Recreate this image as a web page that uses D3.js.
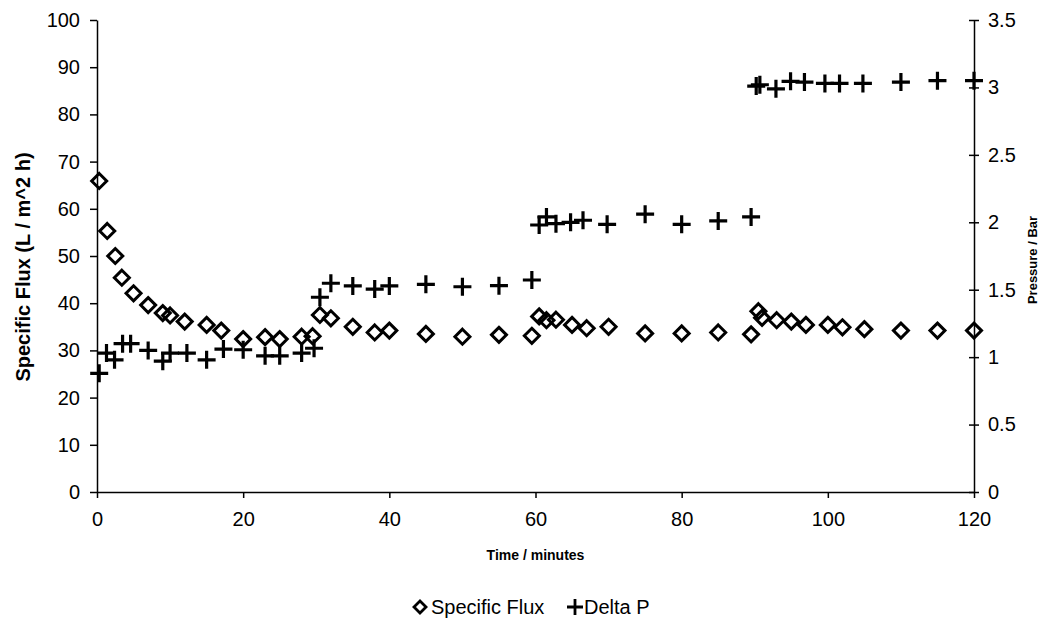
<!DOCTYPE html>
<html>
<head>
<meta charset="utf-8">
<script src="https://cdn.jsdelivr.net/npm/d3@7"></script>
<style>
  html, body { margin: 0; padding: 0; background: #fff; }
  svg { display: block; font-family: "Liberation Sans", Arial, sans-serif; }
</style>
</head>
<body>
<svg id="chart" width="1041" height="620"></svg>
<script>
// Specific flux (L / m^2 h) against time (minutes)
const fluxTime = [0.3, 1.4, 2.5, 3.4, 5, 7, 9, 10, 12, 15, 17, 20, 23, 25, 28, 29.5,
  30.5, 32, 35, 38, 40, 45, 50, 55, 59.5, 60.5, 61.5, 62.8, 65, 67, 70, 75, 80, 85,
  89.5, 90.5, 91, 93, 95, 97, 100, 102, 105, 110, 115, 120];
const fluxValue = [65.9, 55.3, 50, 45.4, 42.1, 39.6, 37.9, 37.4, 36.1, 35.4, 34.2, 32.4,
  32.8, 32.4, 32.9, 33, 37.5, 36.8, 35, 33.8, 34.2, 33.5, 32.9, 33.3, 33.1, 37.2, 36.4,
  36.5, 35.4, 34.7, 35, 33.6, 33.6, 33.8, 33.4, 38.3, 36.9, 36.4, 36.1, 35.4, 35.4,
  34.9, 34.5, 34.2, 34.2, 34.2];

// Delta P (bar) against time (minutes)
const pressureTime = [0.3, 1.3, 2.4, 3.5, 4.6, 7, 9, 10, 12.3, 15, 17.3, 20, 23, 25, 28,
  29.7, 30.5, 32, 35, 38, 40, 45, 50, 55, 59.5, 60.5, 61.5, 62.8, 64.8, 66.5, 69.8, 75,
  80, 85, 89.5, 90.2, 90.7, 92.9, 94.9, 96.8, 99.6, 101.6, 104.8, 110, 115, 120];
const pressureValue = [0.88, 1.03, 0.98, 1.10, 1.10, 1.05, 0.97, 1.03, 1.03, 0.98, 1.06,
  1.055, 1.01, 1.01, 1.03, 1.066, 1.444, 1.548, 1.528, 1.505, 1.528, 1.54, 1.522, 1.53,
  1.572, 1.98, 2.04, 1.99, 2.0, 2.015, 1.985, 2.06, 1.985, 2.01, 2.04, 3.01, 3.02, 2.99,
  3.045, 3.04, 3.03, 3.03, 3.03, 3.04, 3.05, 3.05];

// Axis tick labels
const timeTicks = [0, 20, 40, 60, 80, 100, 120];
const fluxTicks = [0, 10, 20, 30, 40, 50, 60, 70, 80, 90, 100];
const pressureTicks = [0, 0.5, 1, 1.5, 2, 2.5, 3, 3.5];

const svg = d3.select("#chart");
const plotLeft = 97, plotRight = 974, plotTop = 20, plotBottom = 492;

const x = d3.scaleLinear().domain([0, 120]).range([plotLeft, plotRight]);
const yFlux = d3.scaleLinear().domain([0, 100]).range([plotBottom, plotTop]);
const yP = d3.scaleLinear().domain([0, 3.5]).range([plotBottom, plotTop]);

function styleAxis(g, fontSize) {
  g.selectAll("path").attr("stroke", "#000").attr("stroke-width", 1.5);
  g.selectAll("line").attr("stroke", "#000").attr("stroke-width", 1.5);
  g.selectAll("text").attr("fill", "#000").attr("font-size", fontSize)
    .attr("font-family", "'Liberation Sans', Arial, sans-serif");
}

// Bottom axis
const gx = svg.append("g")
  .attr("transform", `translate(0,${plotBottom})`)
  .call(d3.axisBottom(x).tickValues(timeTicks).tickSize(6).tickSizeOuter(0).tickPadding(14));
styleAxis(gx, 20);

// Left axis
const gyl = svg.append("g")
  .attr("transform", `translate(${plotLeft},0)`)
  .call(d3.axisLeft(yFlux).tickValues(fluxTicks).tickSize(7).tickSizeOuter(0).tickPadding(10));
styleAxis(gyl, 20);

// Right axis, ticks crossing the line
const gyr = svg.append("g")
  .attr("transform", `translate(${plotRight},0)`)
  .call(d3.axisRight(yP).tickValues(pressureTicks).tickSize(5).tickSizeOuter(0).tickPadding(9)
    .tickFormat(d3.format("")));
styleAxis(gyr, 20);
gyr.selectAll(".tick line").attr("x1", -5).attr("x2", 5);

// Axis titles
svg.append("text")
  .attr("transform", `translate(30,${(plotTop + plotBottom) / 2 + 11}) rotate(-90)`)
  .attr("text-anchor", "middle").attr("font-size", 20).attr("font-weight", "bold")
  .text("Specific Flux (L / m^2 h)");

svg.append("text")
  .attr("transform", `translate(1037,260) rotate(-90)`)
  .attr("text-anchor", "middle").attr("font-size", 13).attr("font-weight", "bold")
  .text("Pressure / Bar");

svg.append("text")
  .attr("x", (plotLeft + plotRight) / 2).attr("y", 560)
  .attr("text-anchor", "middle").attr("font-size", 14).attr("font-weight", "bold")
  .text("Time / minutes");

// Marker shapes
const diamondPath = "M0,-7.5L7.5,0L0,7.5L-7.5,0Z";
const plusPath = "M-9,0H9M0,-9V9";

const fluxData = fluxTime.map((t, i) => ({ t, v: fluxValue[i] }));
const pData = pressureTime.map((t, i) => ({ t, v: pressureValue[i] }));

svg.append("g").selectAll("path").data(fluxData).join("path")
  .attr("transform", d => `translate(${x(d.t)},${yFlux(d.v)})`)
  .attr("d", diamondPath)
  .attr("fill", "none").attr("stroke", "#000").attr("stroke-width", 3)
  .attr("stroke-linejoin", "miter");

svg.append("g").selectAll("path").data(pData).join("path")
  .attr("transform", d => `translate(${x(d.t)},${yP(d.v)})`)
  .attr("d", plusPath)
  .attr("fill", "none").attr("stroke", "#000").attr("stroke-width", 3.2);

// Legend
const legend = svg.append("g").attr("transform", "translate(0,607)");
legend.append("path").attr("transform", "translate(420,0)")
  .attr("d", "M0,-6L6,0L0,6L-6,0Z")
  .attr("fill", "none").attr("stroke", "#000").attr("stroke-width", 2.8);
legend.append("text").attr("x", 431).attr("y", 7).attr("font-size", 20)
  .text("Specific Flux");
legend.append("path").attr("transform", "translate(575,0)")
  .attr("d", "M-8,0H8M0,-8V8")
  .attr("fill", "none").attr("stroke", "#000").attr("stroke-width", 2.8);
legend.append("text").attr("x", 584).attr("y", 7).attr("font-size", 20)
  .text("Delta P");
</script>
</body>
</html>
